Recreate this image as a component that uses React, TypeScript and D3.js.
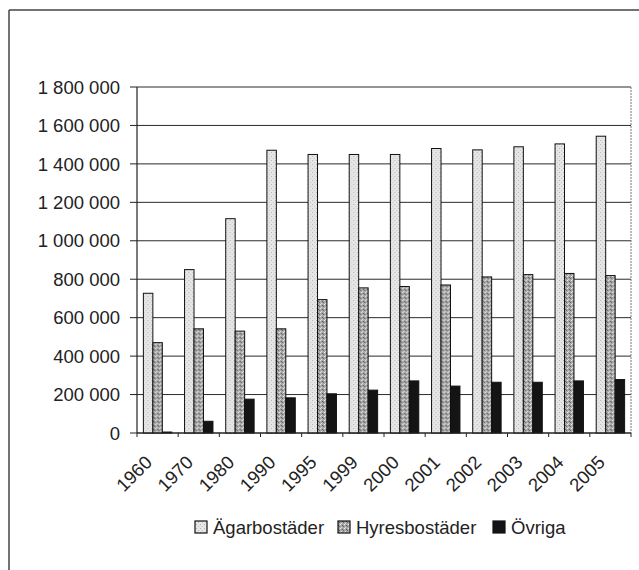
import React from "react";
import * as d3 from "d3";

const years = ["1960","1970","1980","1990","1995","1999","2000","2001","2002","2003","2004","2005"];
const seriesNames = ["Ägarbostäder", "Hyresbostäder", "Övriga"];
const agar = [727000, 850000, 1115000, 1471000, 1449000, 1449000, 1449000, 1480000, 1473000, 1489000, 1504000, 1544000];
const hyres = [470000, 542000, 530000, 542000, 694000, 755000, 762000, 770000, 812000, 824000, 830000, 819000];
const ovriga = [5000, 61000, 176000, 183000, 204000, 223000, 271000, 244000, 264000, 264000, 271000, 278000];
const yTicks = [0, 200000, 400000, 600000, 800000, 1000000, 1200000, 1400000, 1600000, 1800000];

const W = 639, H = 570;
const left = 137, right = 631, top = 87, bottom = 433;
const fills = ["url(#pAgar)", "url(#pHyres)", "#141414"];

export default function App() {
  const seriesVals = [agar, hyres, ovriga];
  const x0 = d3.scaleBand<string>().domain(years).range([left, right]).paddingInner(0.31).paddingOuter(0.155);
  const x1 = d3.scaleBand<string>().domain(seriesNames).range([0, x0.bandwidth()]);
  const y = d3.scaleLinear().domain([0, 1800000]).range([bottom, top]);
  const loc = d3.formatLocale({ decimal: ",", thousands: " ", grouping: [3], currency: ["", ""] });
  const fmt = loc.format(",d");
  const step = x0.step();
  const font = "'Liberation Sans', Arial, sans-serif";
  const fs = 18.5;

  const legendItems = [
    { name: seriesNames[0], x: 195, fill: fills[0] },
    { name: seriesNames[1], x: 338, fill: fills[1] },
    { name: seriesNames[2], x: 493, fill: fills[2] },
  ];

  return (
    <svg width={W} height={H} style={{ position: "absolute", left: 0, top: 0, background: "#fff" }} fontFamily={font}>
      <defs>
        <pattern id="pAgar" width="4" height="4" patternUnits="userSpaceOnUse">
          <rect width="4" height="4" fill="#e6e6e6" />
          <rect x="0" y="0" width="1" height="1" fill="#b4b4b4" />
          <rect x="2" y="2" width="1" height="1" fill="#c4c4c4" />
        </pattern>
        <pattern id="pHyres" width="4" height="4" patternUnits="userSpaceOnUse">
          <rect width="4" height="4" fill="#a8a8a8" />
          <rect x="0" y="0" width="1" height="1" fill="#eeeeee" />
          <rect x="2" y="1" width="1" height="1" fill="#555" />
          <rect x="1" y="3" width="1" height="1" fill="#dddddd" />
          <rect x="3" y="2" width="1" height="1" fill="#666" />
        </pattern>
      </defs>
      <rect width={W} height={H} fill="#fff" />
      {/* outer frame */}
      <line x1={9} y1={10} x2={W} y2={10} stroke="#444" strokeWidth={1.5} />
      <line x1={9} y1={10} x2={9} y2={H} stroke="#444" strokeWidth={1.5} />

      {/* gridlines */}
      {yTicks.map((t) => (
        <line key={"g" + t} x1={left} x2={right} y1={y(t)} y2={y(t)} stroke="#2a2a2a" strokeWidth={1} />
      ))}
      {/* plot border right */}
      <line x1={right} x2={right} y1={top} y2={bottom} stroke="#777" strokeWidth={1} strokeDasharray="2,1" />

      {/* bars */}
      {years.map((yr, i) => (
        <g key={yr} transform={`translate(${x0(yr)},0)`}>
          {seriesNames.map((s, j) => {
            const v = seriesVals[j][i];
            return (
              <rect key={s} x={x1(s)} y={y(v)} width={x1.bandwidth()} height={bottom - y(v)}
                fill={fills[j]} stroke="#111" strokeWidth={1} />
            );
          })}
        </g>
      ))}

      {/* axes */}
      <line x1={left} x2={left} y1={top} y2={bottom} stroke="#222" strokeWidth={1.2} />
      <line x1={left} x2={right} y1={bottom} y2={bottom} stroke="#222" strokeWidth={1.2} />
      {yTicks.map((t) => (
        <g key={"t" + t}>
          <line x1={left - 7} x2={left} y1={y(t)} y2={y(t)} stroke="#222" />
          <text x={120} y={y(t)} dy="0.36em" textAnchor="end" fontSize={fs} fill="#222">{fmt(t)}</text>
        </g>
      ))}
      {years.map((yr, i) => (
        <line key={"xt" + yr} x1={left + step * i} x2={left + step * i} y1={bottom} y2={bottom + 4} stroke="#222" />
      ))}
      <line x1={right} x2={right} y1={bottom} y2={bottom + 4} stroke="#222" />
      {years.map((yr) => {
        const cx = (x0(yr) as number) + x0.bandwidth() / 2;
        return (
          <text key={"xl" + yr} transform={`translate(${cx - 9},${bottom + 26}) rotate(-45)`} textAnchor="end"
            dy="0.35em" fontSize={fs} fill="#222">{yr}</text>
        );
      })}

      {/* legend */}
      {legendItems.map((it) => (
        <g key={it.name}>
          <rect x={it.x} y={521} width={12} height={12} fill={it.fill} stroke="#111" strokeWidth={1.2} />
          <text x={it.x + 18} y={527} dy="0.36em" fontSize={fs} fill="#222">{it.name}</text>
        </g>
      ))}
    </svg>
  );
}
